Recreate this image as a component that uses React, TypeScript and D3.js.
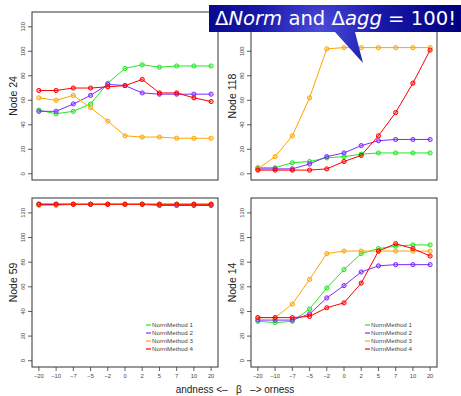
import React from 'react';
import * as d3 from 'd3';

// beta values along the x axis
const betaLabels = ['−20', '−10', '−7', '−5', '−2', '0', '2', '5', '7', '10', '20'];
const methodNames = ['NormMethod 1', 'NormMethod 2', 'NormMethod 3', 'NormMethod 4'];
const methodColors = ['#22e822', '#7f2bff', '#ffa500', '#ff0000'];
const yTicks = [0, 20, 40, 60, 80, 100, 120];

// Node 24
const node24m1 = [52, 49, 51, 57, 74, 86, 89, 87, 88, 88, 88];
const node24m2 = [51, 51, 57, 64, 73, 72, 66, 65, 65, 65, 65];
const node24m3 = [62, 60, 64, 54, 43, 31, 30, 30, 29, 29, 29];
const node24m4 = [68, 68, 70, 70, 71, 72, 77, 66, 66, 62, 59];

// Node 118
const node118m1 = [5, 5, 9, 10, 13, 14, 16, 17, 17, 17, 17];
const node118m2 = [4, 4, 4, 8, 14, 17, 23, 27, 28, 28, 28];
const node118m3 = [4, 14, 31, 62, 102, 103, 103, 103, 103, 103, 103];
const node118m4 = [3, 3, 3, 3, 4, 10, 15, 31, 50, 74, 101];

// Node 59
const node59m1 = [127, 127, 127, 127, 127, 127, 127, 127, 127, 127, 127];
const node59m2 = [127, 127, 127, 127, 127, 127, 127, 126, 126, 126, 126];
const node59m3 = [126, 126, 127, 127, 127, 127, 127, 127, 127, 127, 127];
const node59m4 = [127, 127, 127, 127, 127, 127, 127, 127, 127, 127, 127];

// Node 14
const node14m1 = [32, 31, 32, 42, 59, 74, 87, 91, 93, 94, 94];
const node14m2 = [33, 33, 33, 38, 51, 61, 72, 77, 78, 78, 78];
const node14m3 = [35, 35, 46, 66, 87, 89, 89, 89, 89, 89, 89];
const node14m4 = [35, 35, 35, 36, 43, 47, 63, 89, 95, 91, 85];

interface PanelProps {
	title: string;
	series: number[][];
	left: number;
	top: number;
	right: number;
	bottom: number;
	showX: boolean;
	showLegend: boolean;
}

const font = 'Liberation Sans, Arial, sans-serif';

const Panel: React.FC<PanelProps> = ({ title, series, left, top, right, bottom, showX, showLegend }) => {
	// R style 4% axis extension: x 1..11, y 0..127
	const x = d3.scaleLinear().domain([0.6, 11.4]).range([left, right]);
	const y = d3.scaleLinear().domain([-5.08, 132.08]).range([bottom, top]);
	const line = d3.line<number>().x((_, i) => x(i + 1)).y(d => y(d));

	return (
		<g>
			{series.map((s, k) => (
				<g key={k}>
					<path d={line(s) ?? ''} fill="none" stroke={methodColors[k]} strokeWidth={1} />
					{s.map((v, i) => (
						<circle key={i} cx={x(i + 1)} cy={y(v)} r={2.1} fill={methodColors[k]} fillOpacity={0.3}
							stroke={methodColors[k]} strokeWidth={1} />
					))}
				</g>
			))}
			<rect x={left} y={top} width={right - left} height={bottom - top} fill="none" stroke="#333" strokeWidth={1} />
			{yTicks.map(t => (
				<g key={t}>
					<line x1={left - 4} x2={left} y1={y(t)} y2={y(t)} stroke="#333" strokeWidth={0.8} />
					<text transform={`translate(${left - 7},${y(t)}) rotate(-90)`} textAnchor="middle"
						fontSize={5.8} fill="#444" fontFamily={font}>{t}</text>
				</g>
			))}
			<text transform={`translate(${left - 15.5},${(top + bottom) / 2}) rotate(-90)`} textAnchor="middle"
				fontSize={10.5} fill="#222" fontFamily={font}>{title}</text>
			{showX && betaLabels.map((b, i) => (
				<g key={b}>
					<line x1={x(i + 1)} x2={x(i + 1)} y1={bottom} y2={bottom + 4} stroke="#333" strokeWidth={0.8} />
					<text x={x(i + 1)} y={bottom + 11} textAnchor="middle" fontSize={5.8} fill="#444" fontFamily={font}>{b}</text>
				</g>
			))}
			{showLegend && methodNames.map((m, k) => (
				<g key={m}>
					<line x1={right - 72} x2={right - 67} y1={bottom - 42 + k * 8} y2={bottom - 42 + k * 8}
						stroke={methodColors[k]} strokeWidth={1.2} />
					<text x={right - 66} y={bottom - 40 + k * 8} fontSize={6.2} fill="#444" fontFamily={font}>{m}</text>
				</g>
			))}
		</g>
	);
};

const App: React.FC = () => {
	const width = 461;
	const height = 396;

	return (
		<svg width={width} height={height} viewBox={`0 0 ${width} ${height}`}
			style={{ position: 'absolute', left: 0, top: 0, background: '#fff' }}>
			<defs>
				<radialGradient id="callout" gradientUnits="userSpaceOnUse" cx={320} cy={30} r={140}>
					<stop offset="0%" stopColor="#4b4bdc" />
					<stop offset="45%" stopColor="#1818a8" />
					<stop offset="100%" stopColor="#000080" />
				</radialGradient>
			</defs>
			<Panel title="Node 24" series={[node24m1, node24m2, node24m3, node24m4]}
				left={32} top={12} right={218} bottom={180} showX={false} showLegend={false} />
			<Panel title="Node 118" series={[node118m1, node118m2, node118m3, node118m4]}
				left={251} top={12} right={437} bottom={180} showX={false} showLegend={false} />
			<Panel title="Node 59" series={[node59m1, node59m2, node59m3, node59m4]}
				left={32} top={198} right={218} bottom={367} showX={true} showLegend={true} />
			<Panel title="Node 14" series={[node14m1, node14m2, node14m3, node14m4]}
				left={251} top={198} right={437} bottom={367} showX={true} showLegend={true} />
			<text x={235} y={393} textAnchor="middle" fontSize={10} fill="#222" fontFamily={font}
				style={{ whiteSpace: 'pre' }}>{'andness <–   β   –> orness'}</text>
			{/* callout */}
			<path d="M209,5 L461,5 L461,32 L355,32 L363,63 L335,32 L209,32 Z" fill="url(#callout)" />
			<text x={215} y={25} fontSize={20} fill="#fff" fontFamily="DejaVu Sans, sans-serif"
				textLength={241} lengthAdjust="spacingAndGlyphs">
				<tspan>Δ</tspan><tspan fontStyle="italic">Norm</tspan><tspan> and Δ</tspan>
				<tspan fontStyle="italic">agg</tspan><tspan> = 100!</tspan>
			</text>
		</svg>
	);
};

export default App;
